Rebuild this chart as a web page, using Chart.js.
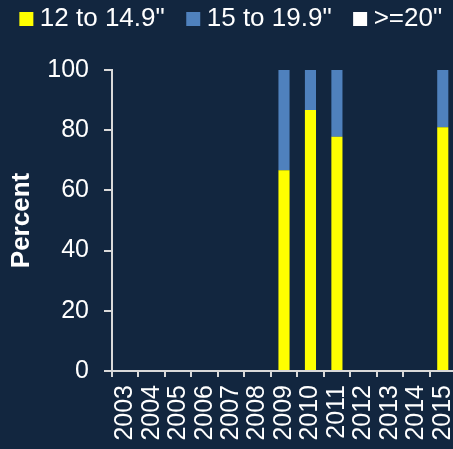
<!DOCTYPE html>
<html><head><meta charset="utf-8">
<script src="https://cdn.jsdelivr.net/npm/chart.js@4"></script>
<style>
html,body{margin:0;padding:0;background:#12263f;overflow:hidden}
#wrap{width:456px;height:449px;position:relative}
</style></head>
<body><div id="wrap"><canvas id="c"></canvas></div>
<script>
const categories = ['2003','2004','2005','2006','2007','2008','2009','2010','2011','2012','2013','2014','2015'];
const seriesNames = ['12 to 14.9"', '15 to 19.9"', '>=20"'];
const s12to14 = [null,null,null,null,null,null,66.7,86.7,77.8,null,null,null,81.0];
const s15to19 = [null,null,null,null,null,null,33.3,13.3,22.2,null,null,null,19.0];
const s20plus = [null,null,null,null,null,null,0,0,0,null,null,null,0];
const yTicks = [0,20,40,60,80,100];

const FONT = "'Liberation Sans', Arial, sans-serif";
const AXIS = '#d9d9d9';

const tweak = {
  id: 'tweak',
  beforeUpdate(chart) {
    const leg = chart.legend;
    if (leg && !leg._patched) {
      const orig = leg.fit;
      leg.fit = function() {
        const w = this.maxWidth;
        this.maxWidth = 2000;
        orig.call(this);
        this.maxWidth = w;
        this.width = w;
        this.height = 70;
      };
      leg._patched = true;
    }
  },
  afterLayout(chart) {
    const l = chart.legend;
    const dy = -22, dx = 6, widen = 60;
    l.top += dy; l.bottom += dy;
    l.left += dx - widen; l.right += dx + widen;
  }
};

new Chart(document.getElementById('c'), {
  type: 'bar',
  data: {
    labels: categories,
    datasets: [
      { label: seriesNames[0], data: s12to14, backgroundColor: '#ffff00', borderWidth: 0 },
      { label: seriesNames[1], data: s15to19, backgroundColor: '#4f81bd', borderWidth: 0 },
      { label: seriesNames[2], data: s20plus, backgroundColor: '#ffffff', borderWidth: 0 }
    ]
  },
  options: {
    responsive: true,
    maintainAspectRatio: false,
    animation: false,
    layout: { padding: 0 },
    datasets: { bar: { categoryPercentage: 1, barPercentage: 0.42 } },
    plugins: {
      tooltip: { enabled: false },
      legend: {
        position: 'top',
        labels: {
          color: '#ffffff',
          font: { family: FONT, size: 26 },
          usePointStyle: true,
          pointStyle: 'rect',
          boxWidth: 1,
          boxHeight: 14,
          padding: 28
        }
      }
    },
    scales: {
      x: {
        stacked: true,
        grid: { display: true, drawOnChartArea: false, drawTicks: true, tickLength: 6, color: AXIS, lineWidth: 2, offset: true },
        border: { display: true, color: AXIS, width: 2 },
        ticks: { color: '#ffffff', font: { family: FONT, size: 25 }, autoSkip: false, minRotation: 90, maxRotation: 90, padding: 8 },
        afterFit(s) { s.height = 78; s.paddingLeft = 0; s.paddingRight = 0; }
      },
      y: {
        stacked: true,
        min: 0, max: 100,
        afterBuildTicks(s) { s.ticks = yTicks.map(v => ({ value: v })); },
        grid: { display: true, drawOnChartArea: false, drawTicks: true, tickLength: 8, color: AXIS, lineWidth: 2 },
        border: { display: true, color: AXIS, width: 2 },
        ticks: { color: '#ffffff', font: { family: FONT, size: 25 }, padding: 15 },
        title: { display: true, text: 'Percent', color: '#ffffff', font: { family: FONT, size: 26, weight: 'bold' }, padding: { top: 6, bottom: 0 } },
        afterFit(s) { s.width = 112; s.paddingTop = 0; s.paddingBottom = 0; }
      }
    }
  },
  plugins: [tweak]
});
</script>
</body></html>
